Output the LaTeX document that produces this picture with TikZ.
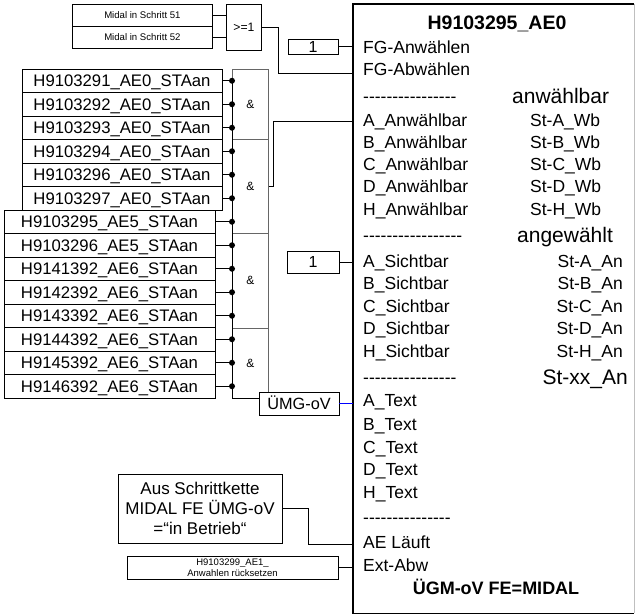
\documentclass[tikz,border=0pt]{standalone}
\usepackage{fontspec}
\setmainfont{Liberation Sans}[Ligatures=TeXOff]
\begin{document}
\begin{tikzpicture}[x=1pt,y=-1pt,
    wire/.style={line width=0.8pt},
    box/.style={draw,line width=0.8pt,inner sep=0pt},
    inbox/.style={box,minimum height=23.5pt,text height=12pt,text depth=0pt,font=\fontsize{16.7}{19}\selectfont},
    tiny/.style={box,font=\fontsize{9.6}{11}\selectfont},
    gate/.style={draw=black!60,line width=0.6pt,inner sep=0pt,anchor=north west,minimum width=36pt,font=\fontsize{12}{14}\selectfont},
    lab/.style={anchor=west,inner sep=0pt,text height=12.5pt,text depth=0pt,font=\fontsize{17.5}{20}\selectfont},
    big/.style={inner sep=0pt,text height=15pt,text depth=0pt,font=\fontsize{21}{24}\selectfont}]
    \useasboundingbox (0,0) rectangle (635,616);

    % Funktionsbaustein
    \node[inner sep=0pt,minimum width=281pt,minimum height=609pt,anchor=north west] (fb) at (353,4) {};
    \draw[line width=1.2pt] (fb.north east) -- (fb.north west) -- (fb.south west) -- (fb.south east);
    \draw[black!25] (fb.north east) -- (fb.south east);
    \node[font=\bfseries\fontsize{19.5}{22}\selectfont,text height=14pt,text depth=0pt,inner sep=0pt] (title) at (497,22) {H9103295\_AE0};
    \node[font=\bfseries\fontsize{18}{20}\selectfont,text height=13pt,text depth=0pt,inner sep=0pt] (foot) at (496,588) {ÜGM-oV FE=MIDAL};

    \foreach \y/\t [count=\i] in {47/FG-Anwählen,69/FG-Abwählen,96/----------------,
        120/A\_Anwählbar,142/B\_Anwählbar,164/C\_Anwählbar,186/D\_Anwählbar,209/H\_Anwählbar,
        235/-----------------,261/A\_Sichtbar,283/B\_Sichtbar,306/C\_Sichtbar,328/D\_Sichtbar,
        351/H\_Sichtbar,377/----------------,400/A\_Text,424/B\_Text,447/C\_Text,469/D\_Text,
        492/H\_Text,517/---------------,542/AE Läuft,565/Ext-Abw}{
        \node[lab] (l\i) at (363,\y) {\t};
    }
    \foreach \y/\t [count=\i] in {120/A,142/B,164/C,186/D,209/H}
        \node[lab] (wb\i) at (530,\y) {St-\t\_Wb};
    \foreach \y/\t [count=\i] in {261/A,283/B,306/C,328/D,351/H}
        \node[lab,anchor=east] (an\i) at (623,\y) {St-\t\_An};
    \node[big,anchor=west] (wbkopf) at (512,96) {anwählbar};
    \node[big,anchor=west] (ankopf) at (517,235) {angewählt};
    \node[big,anchor=east] (anxx) at (628,377) {St-xx\_An};

    % Eingaenge
    \coordinate (bus) at (232,0);
    \foreach \n/\top/\h in {1/69/70,2/139/94,3/233/95,4/328/70}
        \node[gate,minimum height={\h pt}] (g\n) at (232,\top) {\&};

    \foreach \t [count=\i] in {H9103291\_AE0\_STAan,H9103292\_AE0\_STAan,H9103293\_AE0\_STAan,
        H9103294\_AE0\_STAan,H9103296\_AE0\_STAan,H9103297\_AE0\_STAan}{
        \node[inbox,minimum width=200pt] (a\i) at (122,{69+23.5*(\i-0.5)}) {\t};
        \coordinate (da\i) at (a\i.east -| bus);
        \draw[wire] (a\i.east) -- (da\i);
        \fill (da\i) circle (3pt);
    }
    \foreach \t [count=\i] in {H9103295\_AE5\_STAan,H9103296\_AE5\_STAan,H9141392\_AE6\_STAan,
        H9142392\_AE6\_STAan,H9143392\_AE6\_STAan,H9144392\_AE6\_STAan,H9145392\_AE6\_STAan,
        H9146392\_AE6\_STAan}{
        \node[inbox,minimum width=211pt] (b\i) at (109.5,{210+23.5*(\i-0.5)}) {\t};
        \coordinate (db\i) at (b\i.east -| bus);
        \draw[wire] (b\i.east) -- (db\i);
        \fill (db\i) circle (3pt);
    }

    \node[box,fill=white,minimum width=80pt,minimum height=23pt,text height=12pt,text depth=0pt,
        font=\fontsize{16.3}{19}\selectfont] (umg) at (299,403.5) {ÜMG-oV};
    \coordinate (busend) at (232,398);
    \draw[wire] (da1) -- (busend) -- (busend -| umg.west);
    \draw[blue,wire] (umg.east) -- (umg.east -| fb.west);
    \draw[wire] (g2.east) -- ++(5,0) |- (fb.west |- 0,121);

    % oben
    \node[tiny,anchor=north west,minimum width=140pt,minimum height=22pt] (m1) at (72,4) {Midal in Schritt 51};
    \node[tiny,anchor=north west,minimum width=140pt,minimum height=22pt] (m2) at (72,26) {Midal in Schritt 52};
    \node[box,anchor=north west,minimum width=35pt,minimum height=46pt,font=\fontsize{12.2}{14}\selectfont] (oder) at (226,4) {>=1};
    \draw[wire] (m1.east) -- (m1.east -| oder.west);
    \draw[wire] (m2.east) -- (m2.east -| oder.west);
    \draw[wire] (oder.east) -- ++(17,0) |- (fb.west |- 0,73);

    \node[box,minimum width=50pt,minimum height=15pt,font=\fontsize{16}{18}\selectfont] (eins1) at (313,46.5) {1};
    \draw[wire] (eins1.east) -- (eins1.east -| fb.west);
    \node[box,minimum width=52pt,minimum height=22pt,font=\fontsize{16}{18}\selectfont] (eins2) at (313,262) {1};
    \draw[wire] (eins2.east) -- (eins2.east -| fb.west);

    % unten
    \node[box,minimum width=164pt,minimum height=69pt,align=center,font=\fontsize{17}{20}\selectfont] (aus) at (200,508.5)
        {Aus Schrittkette\\MIDAL FE ÜMG-oV\\=“in Betrieb“};
    \draw[wire] (aus.east) -- ++(26,0) |- (fb.west |- 0,544);
    \node[box,minimum width=211pt,minimum height=23pt,align=center,font=\fontsize{9.5}{11}\selectfont] (rst) at (232.5,567.5)
        {H9103299\_AE1\_\\Anwahlen rücksetzen};
    \draw[wire] (rst.east) -- (rst.east -| fb.west);
\end{tikzpicture}
\end{document}
